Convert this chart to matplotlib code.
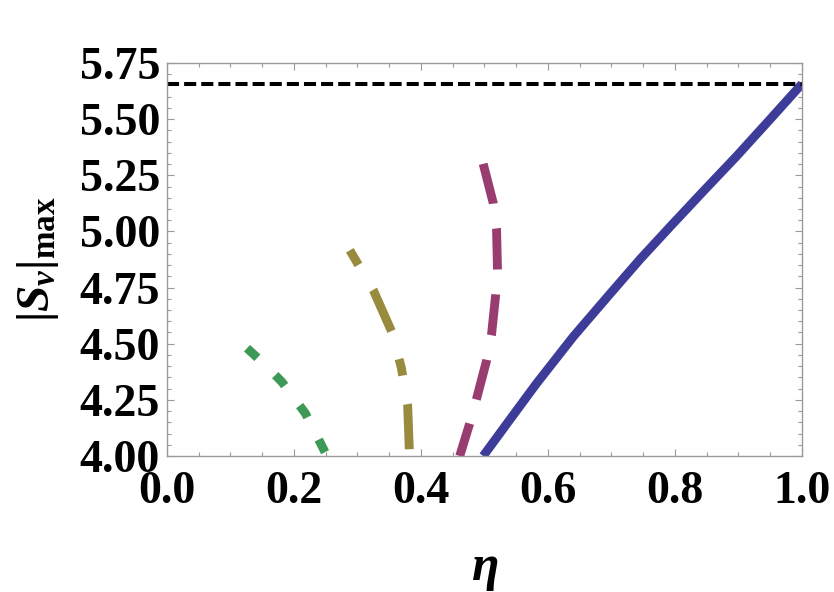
import numpy as np
import matplotlib
matplotlib.use("Agg")
import matplotlib.pyplot as plt
from matplotlib.ticker import MultipleLocator, FormatStrFormatter

plt.rcParams["font.family"] = "Liberation Serif"
plt.rcParams["font.weight"] = "bold"
plt.rcParams["mathtext.fontset"] = "custom"
plt.rcParams["mathtext.rm"] = "Liberation Serif:bold"
plt.rcParams["mathtext.it"] = "Liberation Serif:italic:bold"
plt.rcParams["mathtext.bf"] = "Liberation Serif:bold"

# curves (eta, |S_v|max), ordered from the top end down
ETA_GREEN = [0.126, 0.153, 0.181, 0.218, 0.252]
S_GREEN = [4.48, 4.41, 4.33, 4.19, 4.00]

ETA_OLIVE = [0.288, 0.325, 0.354, 0.369, 0.379, 0.382]
S_OLIVE = [4.916, 4.738, 4.553, 4.394, 4.227, 4.00]

ETA_MAGENTA = [0.498, 0.514, 0.519, 0.5205, 0.5176, 0.511, 0.5035, 0.487, 0.476, 0.461]
S_MAGENTA = [5.301, 5.124, 5.012, 4.827, 4.716, 4.538, 4.427, 4.249, 4.138, 4.00]

ETA_BLUE = [0.498, 0.54, 0.582, 0.64, 0.698, 0.745, 0.792, 0.845, 0.897, 0.95, 1.0]
S_BLUE = [4.00, 4.162, 4.323, 4.532, 4.723, 4.876, 5.02, 5.18, 5.335, 5.50, 5.657]

S_BOUND = 5.657  # 4*sqrt(2)

GRAY = "#9a9a9a"

fig = plt.figure(figsize=(8.34, 5.92), dpi=100)
ax = fig.add_axes([0.2002, 0.2297, 0.7614, 0.6639])

lw = 6.4
k = 5.8 / lw  # keep dash lengths in points while line gets thicker
ax.plot(ETA_GREEN, S_GREEN, color="#3d9956", lw=lw, dashes=(1.75 * k, 3.1 * k))
ax.plot(ETA_OLIVE, S_OLIVE, color="#998b3d", lw=lw,
        dashes=(2.1 * k, 3.6 * k, 5.6 * k, 3.6 * k))
ax.plot(ETA_MAGENTA, S_MAGENTA, color="#993d71", lw=lw, dashes=(5.1 * k, 3.1 * k))
ax.plot(ETA_BLUE, S_BLUE, color="#3d3d99", lw=lw, solid_capstyle="butt", solid_joinstyle="round")
ax.axhline(S_BOUND, color="black", lw=2.9, dashes=(3.0, 1.25))

ax.set_xlim(0, 1.0)
ax.set_ylim(4.0, 5.75)

ax.xaxis.set_major_locator(MultipleLocator(0.2))
ax.xaxis.set_minor_locator(MultipleLocator(0.05))
ax.yaxis.set_major_locator(MultipleLocator(0.25))
ax.yaxis.set_minor_locator(MultipleLocator(0.05))
ax.xaxis.set_major_formatter(FormatStrFormatter("%.1f"))
ax.yaxis.set_major_formatter(FormatStrFormatter("%.2f"))

ax.tick_params(which="both", direction="in", top=True, right=True, color=GRAY, width=0.8)
ax.tick_params(which="major", length=5)
ax.tick_params(which="minor", length=3)
ax.tick_params(axis="y", which="major", labelsize=33, pad=5)
ax.tick_params(axis="x", which="major", labelsize=33, pad=11)

for sp in ax.spines.values():
    sp.set_color(GRAY)
    sp.set_linewidth(1.0)

ax.set_xlabel(r"$\eta$", fontsize=36, labelpad=24)
ax.set_ylabel(r"$|S_{\nu}|_{\rm max}$", fontsize=34, labelpad=13)

fig.savefig("out.png", dpi=100)
